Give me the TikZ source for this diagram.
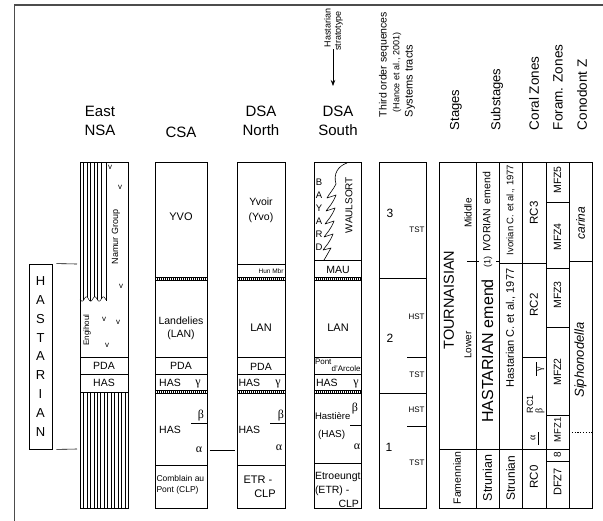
\documentclass[tikz,border=0pt]{standalone}
\usepackage{fontspec}
\setmainfont{Liberation Sans}
\newfontfamily\grk{Liberation Serif}
\usetikzlibrary{arrows.meta}
\newcommand\railbar[3]{%
  \draw[line width=0.45pt] (#1,#3-1.4) -- (#2,#3-1.4) (#1,#3+1.4) -- (#2,#3+1.4);
  \draw[line width=2.8pt, dash pattern=on 0.9pt off 1.1pt] (#1,#3) -- (#2,#3);}
\begin{document}
\begin{tikzpicture}[x=1pt,y=-1pt,
  lab/.style={inner sep=0pt, outer sep=0pt, font=\fontsize{#1}{#1}\selectfont},
  lab/.default=10.5,
  rlab/.style={lab=#1, rotate=90},
  rlab/.default=10.5,
  box/.style={draw, line width=0.8pt},
  ln/.style={line width=0.6pt},
  hl/.style={line width=0.45pt},
  gr/.style={inner sep=0pt, font=\fontsize{12}{12}\selectfont\grk},
  rgr/.style={inner sep=0pt, rotate=90, font=\fontsize{10}{10}\selectfont\grk}]
\useasboundingbox (0,0) rectangle (603,520);
% frame
\draw[line width=1.4pt, black!70] (14.5,522) -- (14.5,5) -- (605,5);

% ---------- headers
\node[lab, align=center, font=\fontsize{15}{19}\selectfont] (hEast) at (100,121) {East\\NSA};
\node[lab=15] (hCSA) at (181,132) {CSA};
\node[lab, align=center, font=\fontsize{15}{19}\selectfont] (hDN) at (261,121) {DSA\\North};
\node[lab, align=center, font=\fontsize{15}{19}\selectfont] (hDS) at (338,121) {DSA\\South};
\node[rlab=9] (hHast) at (327.5,28) {Hastarian};
\node[rlab=9] (hStrat) at (339,31) {stratotype};
\coordinate (arrS) at (333,49);
\coordinate (arrE) at (333,86);
\draw[line width=0.7pt, -{Stealth[length=6pt,width=4.5pt]}] (arrS) -- (arrE);
\node[rlab=10.5, anchor=west] (hThird) at (384,117) {Third order sequences};
\node[rlab=9, anchor=west] (hHance) at (397,112) {(Hance et al., 2001)};
\node[rlab=11, anchor=west] (hSys) at (410,117) {Systems tracts};
\node[rlab=13, anchor=west] (hStages) at (456,130) {Stages};
\node[rlab=13, anchor=west] (hSub) at (497,130) {Substages};
\node[rlab=13.5, anchor=west] (hCoral) at (534,130) {Coral Zones};
\node[rlab=13.5, anchor=west] (hForam) at (558,130) {Foram. Zones};
\node[rlab=13.5, anchor=west] (hCono) at (582,130) {Conodont Z};

% ---------- HASTARIAN box
\node[draw, line width=0.8pt, minimum width=23pt, minimum height=185pt, inner sep=0pt,
  align=center, font=\fontsize{13}{18.9}\selectfont] (hbox) at (40.5,356.5)
  {H\\A\\S\\T\\A\\R\\I\\A\\N};
\coordinate (hT) at (77,264);
\coordinate (hB) at (77,449);
\draw[ln] ([xshift=4pt]hbox.north east) -- (hT);
\draw[ln] ([xshift=4pt]hbox.south east) -- (hB);

% ---------- East NSA
\foreach \x in {83.5,87,90.5,94,97.5,101}
  \draw[hl] (\x,162) -- (\x,{299+2.2*sin(360*(\x-80)/8.5)});
\draw[hl] (106,162) -- (106,301);
\draw[hl, domain=80:106, samples=60, smooth] plot (\x,{299+2.2*sin(360*(\x-80)/8.5)});
\foreach \x in {83.45,86.9,...,125.5}
  \draw[hl] (\x,392) -- (\x,508);
\draw[ln] (80,357) -- (128,357) (80,374) -- (128,374) (80,392) -- (128,392);
\draw[box] (80,162) rectangle (128,508);
\node[lab=8] (v1) at (110,167) {v};
\node[lab=8] (v2) at (120,187) {v};
\node[lab=8] (v3) at (121,286) {v};
\node[lab=8] (v4) at (104,319) {v};
\node[lab=8] (v5) at (118,322) {v};
\node[lab=8] (v6) at (107,345) {v};
\node[rlab=9] (namur) at (116,237) {Namur Group};
\node[rlab=8] (engi) at (87,330) {Engihoul};
\node[lab] (ePDA) at (104,366) {PDA};
\node[lab] (eHAS) at (104,383) {HAS};

% ---------- CSA
\draw[box] (155,162) rectangle (207,508);
\node[lab=11] (cYVO) at (181,217) {YVO};
\railbar{155}{207}{279}
\node[lab, align=center, font=\fontsize{10.5}{13}\selectfont] (cLAN) at (181,328) {Landelies\\(LAN)};
\draw[ln] (155,357) -- (207,357) (155,374) -- (207,374) (155,465) -- (207,465);
\node[lab] (cPDA) at (181,366) {PDA};
\node[lab] (cHAS1) at (170,383) {HAS};
\node[gr] (cgam) at (198,384) {γ};
\railbar{155}{207}{392}
\node[lab] (cHAS2) at (170,430) {HAS};
\node[gr] (cbet) at (201,416) {β};
\draw[ln] (191,423) -- (207,423);
\node[gr] (calp) at (199,450) {α};
\node[lab=8.5, align=left, anchor=west, font=\fontsize{8.5}{11}\selectfont] (cCLP) at (156.5,485) {Comblain au\\Pont (CLP)};

% connector alpha - alpha
\coordinate (aL) at (209.5,450);
\coordinate (aR) at (235,450);
\draw[ln] (aL) -- (aR);

% ---------- DSA North
\draw[box] (237,162) rectangle (285,508);
\node[lab, align=center, font=\fontsize{10.5}{15}\selectfont] (nYvo) at (261,210) {Yvoir\\(Yvo)};
\draw[ln] (237,264) -- (285,264);
\node[lab=6.5, anchor=east] (nHun) at (283.5,271) {Hun Mbr};
\railbar{237}{285}{279}
\node[lab=11] (nLAN) at (261,328) {LAN};
\draw[ln] (237,357) -- (285,357) (237,374) -- (285,374) (237,465) -- (285,465);
\node[lab] (nPDA) at (261,367) {PDA};
\node[lab, anchor=west] (nHAS1) at (238.5,383) {HAS};
\node[gr] (ngam) at (278,384) {γ};
\railbar{237}{285}{392}
\node[lab, anchor=west] (nHAS2) at (238.5,430) {HAS};
\node[gr] (nbet) at (281,416) {β};
\draw[ln] (270,423) -- (285,423);
\node[gr] (nalp) at (279,448) {α};
\node[lab=11] (nETR) at (258,480) {ETR -};
\node[lab=11] (nCLP) at (265,494) {CLP};

% ---------- DSA South
\draw[box] (314,162) rectangle (361,508);
\foreach \l [count=\i] in {B,A,Y,A,R,D}
  \node[lab=9.5] (sB\i) at (319,{169+13*\i}) {\l};
\draw[ln, line join=round] (347,163) .. controls (338,166) and (333,174) .. (336,184)
  .. controls (333,190) and (329,194) .. (327,198) -- (336,195)
  .. controls (333,203) and (329,207) .. (326,211) -- (335,208)
  .. controls (332,216) and (328,220) .. (325,224) -- (334,221)
  .. controls (331,229) and (327,233) .. (324,237) -- (333,234)
  .. controls (330,242) and (326,246) .. (323,250) -- (331,248)
  .. controls (328,253) and (326,257) .. (324,260);
\node[rlab=10] (sWaul) at (349,205) {WAULSORT};
\draw[ln] (314,260) -- (361,260);
\node[lab] (sMAU) at (338,269.5) {MAU};
\railbar{314}{361}{279}
\node[lab=11] (sLAN) at (338,328) {LAN};
\draw[ln] (314,357) -- (361,357) (314,374) -- (361,374) (314,463) -- (361,463);
\node[lab=8, anchor=west] (sPont) at (315,361.5) {Pont};
\node[lab=8, anchor=east] (sArc) at (360.5,369) {d'Arcole};
\node[lab, anchor=west] (sHAS1) at (316,383) {HAS};
\node[gr] (sgam) at (356,384) {γ};
\railbar{314}{361}{392}
\node[lab=9.5, anchor=west] (sHast) at (315,416) {Hastière};
\node[gr] (sbet) at (355,409) {β};
\draw[ln] (350,425) -- (361,425);
\node[lab=10, anchor=west] (sHASp) at (318,435) {(HAS)};
\node[gr] (salp) at (357,447) {α};
\node[lab=10.5, anchor=west] (sEtr) at (315,477) {Etroeungt};
\node[lab=10.5, anchor=west] (sEtr2) at (315,491) {(ETR) -};
\node[lab=10.5, anchor=east] (sCLP) at (359,504) {CLP};

% ---------- Third order sequences
\draw[box] (379,162) rectangle (426,508);
\draw[ln] (379,278) -- (426,278) (379,393) -- (426,393);
\draw[ln] (407,357) -- (426,357) (407,426) -- (426,426);
\node[lab=12] (t3) at (390,213) {3};
\node[lab=8, anchor=east] (tT3) at (424.5,230) {TST};
\node[lab=8, anchor=east] (tH2) at (424.5,317) {HST};
\node[lab=12] (t2) at (390,338) {2};
\node[lab=8, anchor=east] (tT2) at (424.5,375) {TST};
\node[lab=8, anchor=east] (tH1) at (424.5,410) {HST};
\node[lab=12] (t1) at (389,447) {1};
\node[lab=8, anchor=east] (tT1) at (424.5,463) {TST};

% ---------- Stage table
\draw[box] (439,162) rectangle (592,508);
\foreach \x in {476,499,522,546,569} \draw[ln] (\x,162) -- (\x,508);
\draw[ln] (439,449) -- (569,449);
\draw[ln] (546,461) -- (569,461);
\draw[ln] (546,415) -- (569,415);
\draw[ln] (546,327) -- (569,327);
\draw[ln] (546,268) -- (569,268);
\draw[ln] (546,202) -- (569,202);
\draw[ln] (569,261) -- (592,261);
\draw[ln, dash pattern=on 1.2pt off 1.6pt] (569,432) -- (592,432);
\draw[ln] (499,263) -- (546,263);
\draw[ln] (522,357) -- (546,357);
\draw[ln] (467,261) -- (479,261) (496,261) -- (499,261);
\node[rlab=9] (one) at (488,262) {(1)};
\node[rlab=14.5] (tour) at (449,300) {TOURNAISIAN};
\node[rlab=10] (lower) at (468,345) {Lower};
\node[rlab=10] (middle) at (468,213) {Middle};
\node[rlab=10.5] (famen) at (457,478) {Famennian};
\node[rlab=16] (hastE) at (487.5,351) {HASTARIAN emend};
\node[rlab=10.5] (ivoE) at (486.5,212) {IVORIAN\, emend};
\node[rlab=12.5] (stru1) at (487.5,478) {Strunian};
\node[rlab=9.5] (ivoC) at (510.5,210) {Ivorian C. et al., 1977};
\node[rlab=11] (hasC) at (510.5,328) {Hastarian C. et al., 1977};
\node[rlab=12] (stru2) at (510.5,478) {Strunian};
\node[rlab=11.5] (rc3) at (534,213) {RC3};
\node[rlab=11.5] (rc2) at (534,305) {RC2};
\node[rlab=9] (rc1) at (530,404) {RC1};
\node[rgr] (rcb) at (540,411) {β};
\draw[hl] (536,362) -- (536,376);
\node[rgr] (rcg) at (541,369) {γ};
\node[rgr] (rca) at (533,438) {α};
\draw[hl] (538.5,432) -- (538.5,445);
\node[rlab=11.5] (rc0) at (534,477) {RC0};
\node[rlab=10.5] (mf5) at (557.5,180) {MFZ5};
\node[rlab=10.5] (mf4) at (557.5,237) {MFZ4};
\node[rlab=10.5] (mf3) at (557.5,295) {MFZ3};
\node[rlab=10.5] (mf2) at (557.5,372) {MFZ2};
\node[rlab=9.5] (mf1) at (557.5,430) {MFZ1};
\node[rlab=10] (eight) at (557.5,455) {8};
\node[rlab=11] (dfz) at (557.5,482) {DFZ7};
\node[rlab=12, font=\fontsize{12}{12}\selectfont\itshape] (carina) at (580.5,223) {carina};
\node[rlab=13, font=\fontsize{13}{13}\selectfont\itshape] (sipho) at (580.5,360) {Siphonodella};
\end{tikzpicture}
\end{document}
